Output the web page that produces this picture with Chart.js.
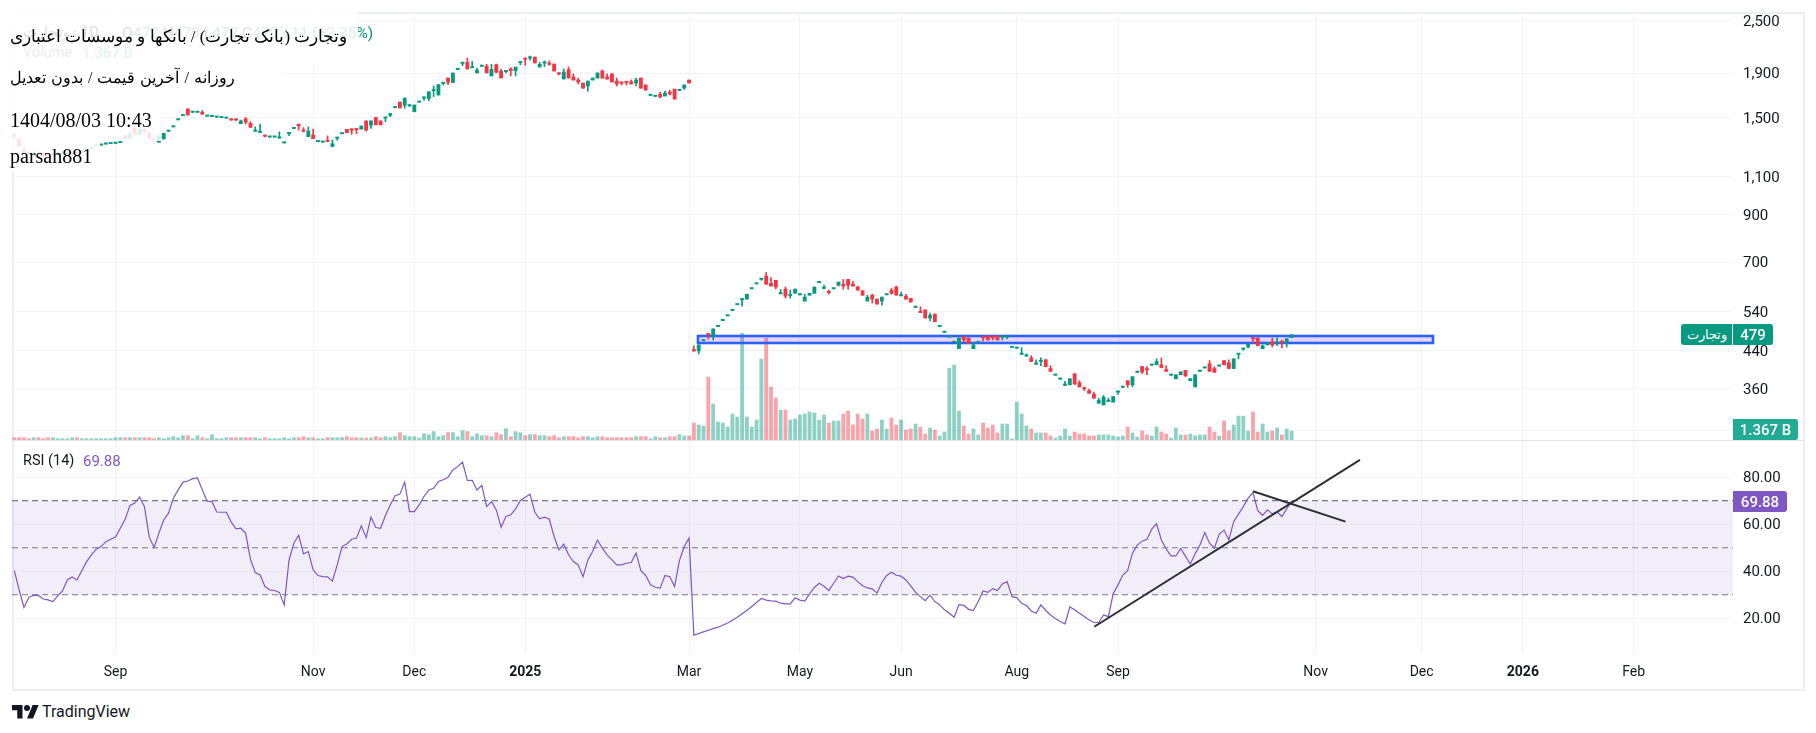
<!DOCTYPE html>
<html lang="fa"><head><meta charset="utf-8"><title>وتجارت</title>
<script src="https://cdn.jsdelivr.net/npm/chart.js@4/dist/chart.umd.min.js"></script>
<style>
html,body{margin:0;padding:0;background:#fff;width:1816px;height:733px;overflow:hidden}
body{position:relative;font-family:Roboto,sans-serif;color:#131722}
canvas{position:absolute;left:0}
.frame{position:absolute;left:12px;top:12px;width:1789px;height:675px;border:2px solid #eceef5;box-sizing:content-box;pointer-events:none}
.sep{position:absolute;left:12px;top:440px;width:1791px;height:1px;background:#e0e3eb}
.t{position:absolute;white-space:nowrap;font-size:14.5px;line-height:20px}
.veil{position:absolute;left:0;background:rgba(255,255,255,.85)}
.note{position:absolute;white-space:nowrap;font-family:"Liberation Serif","Times New Roman",serif;color:#000;font-size:20px;line-height:24px}
.fa1{font-size:16.8px}
.fa2{font-size:16px;word-spacing:1px}
.tag{position:absolute;color:#fff;font-size:15px;font-weight:500;display:flex;align-items:center;justify-content:center}
</style></head><body>
<div class="frame"></div>
<canvas id="main" width="1816" height="441" style="top:0;width:1816px;height:441px"></canvas>
<div class="sep"></div>
<canvas id="osc" width="1816" height="247" style="top:441px;width:1816px;height:247px"></canvas>

<div class="t" style="left:23px;top:23px"><span dir="rtl">وتجارت</span> · 1D<span style="position:absolute;left:99px;top:0;color:#089981;font-size:15.5px"><span style="color:#131722">O</span>472 <span style="color:#131722">H</span>479 <span style="color:#131722">L</span>472 <span style="color:#131722">C</span>479 +11 (+2.35%)</span></div>
<div class="t" style="left:23px;top:43px;color:#787b86">Volume<span style="position:absolute;left:59px;color:#22ab94;font-size:15px">1.367 B</span></div>
<div class="t" style="left:23px;top:451px">RSI (14)<span style="position:absolute;left:60px;color:#7e57c2;font-size:15px">69.88</span></div>

<div class="veil" style="top:0;width:358px;height:65px"></div>
<div class="veil" style="top:65px;width:285px;height:35px"></div>
<div class="veil" style="top:100px;width:161px;height:41px"></div>
<div class="veil" style="top:141px;width:100px;height:32px"></div>
<div class="note fa1" dir="rtl" style="left:10px;top:25px">وتجارت (بانک تجارت) / بانکها و موسسات اعتباری</div>
<div class="note fa2" dir="rtl" style="left:10px;top:66px">روزانه / آخرین قیمت / بدون تعدیل</div>
<div class="note" style="left:10px;top:108px">1404/08/03 10:43</div>
<div class="note" style="left:10px;top:144px">parsah881</div>

<div class="tag" dir="rtl" style="left:1681px;top:324px;width:51px;height:21px;background:#089981;border-radius:3px 0 0 3px;font-size:13px;font-weight:400">وتجارت</div>
<div class="tag" style="left:1733px;top:324px;width:40px;height:21px;background:#089981;border-radius:0 3px 3px 0">479</div>
<div class="tag" style="left:1733px;top:419px;width:65px;height:21px;background:#22ab94;border-radius:0 3px 3px 0">1.367 B</div>
<div class="tag" style="left:1733px;top:491px;width:54px;height:21px;background:#7e57c2;border-radius:0 3px 3px 0">69.88</div>

<svg style="position:absolute;left:12px;top:702px" width="27" height="18" viewBox="0 0 36 24"><path fill="#131722" d="M14 22H7V11H0V4h14v18zM28 22h-8l7.5-18h8L28 22z"/><circle fill="#131722" cx="20" cy="8" r="4"/></svg>
<div class="t" style="left:42px;top:702px;font-size:16px;color:#131722">TradingView</div>

<script>
const opens=[
1367,1343,1263,1243,1235,1250,1246,1236,1233,1238,
1239,1242,1244,1249,1250,1265,1277,1295,1300,1307,
1310,1312,1317,1367,1348,1420,1374,1408,1388,1338,
1320,1343,1398,1431,1485,1518,1573,1545,1545,1546,
1514,1511,1506,1502,1498,1495,1487,1455,1493,1458,
1398,1389,1366,1356,1356,1349,1315,1381,1418,1452,
1402,1360,1372,1324,1320,1328,1291,1348,1380,1413,
1409,1414,1415,1475,1445,1504,1477,1499,1521,1583,
1631,1604,1597,1550,1630,1666,1662,1731,1693,1799,
1851,1808,1936,1999,2010,1954,1902,1969,1972,1872,
1986,1919,1914,1944,1924,2007,2048,2056,2067,1962,
2002,1992,1993,1894,1842,1934,1861,1832,1803,1776,
1832,1851,1921,1861,1892,1822,1806,1811,1816,1803,
1851,1785,1689,1680,1699,1684,1719,1746,1733,1756,
1832,442,440,464,481,478,500,516,529,544,
561,576,578,610,626,641,652,628,638,594,
609,589,596,591,572,590,596,630,611,600,
610,622,625,641,625,616,603,572,590,578,
572,591,606,616,588,587,580,553,540,546,
523,534,500,485,473,460,445,474,471,445,
460,473,476,476,476,473,473,448,446,432,
428,424,410,416,420,401,387,379,367,368,
390,372,361,357,350,334,331,337,336,354,
363,376,368,393,405,400,408,409,409,399,
387,380,388,397,376,364,395,402,411,401,
406,418,413,401,432,444,449,471,471,445,
454,461,458,462,461,472];
const closes=[
1364,1297,1246,1240,1250,1235,1231,1233,1236,1241,
1242,1244,1246,1246,1252,1268,1280,1298,1303,1310,
1312,1315,1320,1343,1377,1379,1408,1396,1348,1335,
1365,1384,1401,1435,1489,1522,1524,1548,1548,1530,
1518,1514,1509,1504,1501,1483,1484,1477,1467,1428,
1401,1392,1362,1360,1360,1352,1318,1384,1422,1438,
1399,1400,1345,1327,1323,1325,1309,1351,1383,1388,
1406,1410,1438,1408,1477,1447,1447,1502,1536,1587,
1581,1666,1600,1606,1634,1669,1722,1734,1788,1803,
1811,1901,1940,2003,1942,1956,1931,1973,1902,1938,
1909,1852,1917,1924,1961,2011,2044,2059,2004,1990,
2005,1989,1921,1891,1911,1851,1832,1813,1755,1822,
1851,1902,1851,1841,1813,1794,1801,1808,1794,1832,
1755,1737,1692,1683,1676,1710,1701,1657,1736,1785,
1803,440,454,466,479,494,502,518,531,546,
563,578,593,612,628,643,625,619,616,596,
587,591,609,593,584,596,616,632,613,598,
612,632,619,622,619,606,590,584,578,563,
584,593,596,590,590,578,569,555,538,523,
531,513,502,487,475,462,471,466,458,454,
462,471,466,471,466,475,475,450,448,434,
430,416,412,418,405,395,389,381,369,380,
370,364,360,352,343,339,345,338,346,356,
365,368,384,395,394,398,410,416,403,395,
389,388,394,386,380,388,397,404,395,393,
408,409,401,422,434,446,456,469,452,452,
460,454,460,460,469,479];
const highs=[
1384,1343,1291,1256,1256,1256,1252,1242,1242,1241,
1242,1244,1246,1249,1252,1268,1280,1298,1303,1310,
1312,1315,1320,1367,1396,1420,1428,1420,1388,1352,
1365,1384,1401,1435,1489,1522,1573,1548,1548,1560,
1518,1514,1509,1504,1501,1495,1494,1484,1504,1471,
1432,1453,1370,1360,1360,1394,1318,1384,1422,1452,
1426,1431,1415,1327,1323,1365,1336,1351,1383,1413,
1420,1420,1438,1480,1477,1506,1477,1502,1536,1587,
1631,1666,1614,1606,1634,1669,1722,1776,1788,1803,
1851,1901,1940,2003,2056,2020,1951,1973,1990,1990,
1993,1938,1917,1955,1961,2011,2056,2078,2067,2010,
2025,2025,1993,1902,1941,1962,1892,1851,1803,1822,
1851,1902,1931,1892,1892,1851,1813,1813,1832,1851,
1851,1785,1692,1689,1719,1728,1737,1746,1736,1785,
1832,452,454,466,481,494,502,518,531,546,
563,578,593,612,628,643,665,647,638,608,
616,606,609,593,593,596,616,632,622,606,
612,632,641,641,635,619,606,590,593,578,
584,593,612,619,600,593,580,557,555,546,
537,534,502,487,475,462,471,474,471,461,
462,473,476,476,476,475,475,450,448,448,
433,429,420,424,420,407,389,381,375,380,
390,376,364,360,354,343,348,343,346,356,
365,376,384,395,405,405,410,422,424,407,
389,388,394,397,380,388,397,404,418,405,
408,418,420,422,434,446,456,471,471,454,
460,471,471,466,469,479];
const lows=[
1348,1292,1242,1235,1235,1231,1228,1228,1230,1238,
1239,1242,1244,1246,1250,1265,1277,1295,1300,1307,
1310,1312,1317,1343,1348,1379,1374,1384,1348,1335,
1320,1343,1398,1431,1485,1518,1524,1545,1545,1530,
1514,1511,1506,1502,1498,1483,1479,1455,1453,1428,
1398,1389,1357,1356,1356,1349,1315,1367,1418,1408,
1394,1360,1345,1324,1320,1325,1291,1334,1380,1388,
1377,1382,1415,1400,1420,1447,1447,1471,1511,1583,
1581,1579,1597,1550,1630,1648,1642,1679,1693,1785,
1788,1808,1936,1976,1942,1954,1902,1969,1902,1872,
1902,1852,1902,1872,1872,1986,1980,2035,2004,1961,
1966,1980,1921,1882,1842,1851,1832,1794,1755,1728,
1832,1851,1851,1841,1813,1776,1785,1785,1794,1776,
1755,1737,1689,1680,1667,1684,1693,1657,1733,1743,
1803,439,433,464,468,466,500,516,529,544,
561,557,578,610,626,638,625,619,610,594,
581,581,596,591,572,590,596,630,611,593,
610,619,609,609,619,606,590,572,566,563,
560,591,593,590,588,578,569,553,538,523,
515,513,500,485,473,460,445,461,458,445,
460,463,466,466,466,466,469,448,446,432,
428,416,410,407,405,395,387,379,367,368,
368,364,357,352,343,334,331,337,336,350,
363,363,364,393,390,388,408,409,403,395,
387,380,388,384,376,364,395,402,395,393,
406,409,401,401,422,441,447,458,452,445,
454,449,452,447,449,472];
const volumes=[
.35,.35,.35,.2,.35,.35,.2,.35,.35,.2,
.2,.2,.35,.35,.2,.2,.2,.2,.2,.2,
.2,.35,.35,.35,.35,.35,.35,.35,.35,.2,
.35,.2,.35,.51,.35,.66,.66,.2,.66,.35,
.2,.81,.2,.2,.35,.35,.35,.35,.35,.35,
.35,.2,.35,.2,.2,.2,.35,.2,.35,.35,
.51,.35,.35,.2,.2,.35,.35,.35,.35,.51,
.35,.35,.3,.3,.3,.51,.35,.51,.35,.51,
1.11,.66,.51,.51,.3,.96,.81,1.27,.51,.66,
1.11,1.11,.51,1.42,1.27,.51,.96,.66,.66,.51,
1.11,.81,1.72,.51,1.27,1.11,.66,.81,.81,.66,
.66,.51,.66,.35,.51,.51,.51,.35,.51,.51,
.35,.51,.51,.35,.35,.35,.35,.35,.35,.51,
.51,.51,.2,.51,.35,.35,.51,.51,.81,.61,
.61,2.58,2.28,2.13,9.56,5.46,2.73,2.58,1.97,3.95,
3.49,16.24,3.49,1.97,3.04,12.3,15.48,8.05,6.38,4.55,
4.55,3.04,3.19,3.8,3.95,4.25,4.1,3.04,3.8,2.58,
2.88,2.88,3.95,4.4,2.28,3.95,3.19,3.95,1.37,1.67,
3.04,1.67,3.34,2.28,3.04,1.52,1.67,2.43,1.97,.91,
1.82,1.52,.61,1.21,10.93,11.39,4.4,2.13,.91,1.67,
.76,2.58,1.82,2.28,1.06,2.43,2.43,.15,5.77,3.95,
2.13,1.67,1.06,1.06,1.06,.61,.3,.61,1.67,.61,
1.21,.91,.91,.61,.61,.76,.76,.76,.61,.46,
.61,1.97,1.06,.46,1.37,.76,.61,1.97,1.21,.91,
.3,1.82,.76,.76,.91,.61,.76,.76,1.97,1.21,
.61,2.88,1.37,2.28,3.64,3.64,1.37,4.25,1.21,2.43,
1.21,1.37,1.82,.76,1.67,1.367];
const rsiValues=[
40.3,32.1,24.7,28.8,29.8,29.7,28.2,27.8,27.1,29.5,
31.6,36.3,37.6,36.3,40.2,44.1,47.0,49.4,50.5,52.6,
53.6,54.5,58.3,62.1,68.0,69.0,71.5,67.5,54.5,50.1,
56.2,61.8,64.7,71.1,74.6,77.9,78.4,79.4,79.7,74.6,
69.8,69.6,65.2,65.1,65.1,60.9,58.0,58.3,56.2,45.1,
39.4,38.4,33.5,32.1,31.8,31.0,25.7,44.8,51.9,55.3,
47.4,48.4,40.6,38.2,37.7,37.6,35.8,42.7,50.5,51.6,
53.6,54.1,59.3,54.3,63.0,58.6,58.3,63.7,68.2,72.1,
72.8,77.9,65.4,65.4,68.2,71.8,74.6,75.3,78.2,78.9,
80.0,83.1,84.5,86.4,78.6,78.7,74.6,76.5,67.5,69.6,
66.1,58.7,63.3,64.0,66.5,70.1,71.5,72.8,65.1,62.3,
63.0,62.1,54.8,49.1,51.5,47.0,44.1,42.7,37.7,44.8,
48.4,53.3,49.8,47.0,44.8,42.7,42.7,43.4,43.7,47.7,
40.2,38.2,34.2,33.2,32.8,38.2,37.7,33.5,44.5,50.5,
54.1,12.8,13.5,14.2,14.9,15.6,16.2,17.0,18.0,19.2,
20.4,21.9,23.3,25.0,26.7,28.4,27.7,27.4,27.3,26.4,
26.1,26.1,28.7,27.7,27.3,30.4,33.1,34.9,33.6,31.8,
34.9,38.0,36.9,37.9,37.5,35.6,33.8,32.9,32.5,30.7,
35.2,38.2,39.6,38.3,37.9,36.3,33.8,31.0,29.2,27.5,
29.8,27.1,25.7,23.6,22.1,20.4,25.8,25.5,23.8,23.3,
27.1,31.6,31.0,32.6,31.8,34.6,35.6,29.2,28.8,26.4,
25.4,23.1,22.1,25.7,23.3,21.4,19.9,18.6,17.6,24.8,
23.6,22.1,20.7,19.3,18.2,18.2,21.4,20.7,30.4,34.2,
38.4,40.2,47.7,51.1,52.8,53.6,57.9,60.2,53.3,49.5,
46.5,46.5,49.7,46.3,43.1,47.4,51.2,56.5,51.9,49.8,
55.8,57.5,53.3,61.1,64.3,67.5,71.1,73.5,65.8,63.8,
66.1,64.4,65.3,63.3,66.5,69.88];
const monthTickIdx=[21,62,83,106,140,163,184,208,229,270,292,313,336];
const monthTickLabels=["Sep","Nov","Dec","2025","Mar","May","Jun","Aug","Sep","Nov","Dec","2026","Feb"];
const boldTickLabels=["2025","2026"];
const priceTicks=[2500,1900,1500,1100,900,700,540,440,360,290];
const priceTickLabels=["2,500","1,900","1,500","1,100","900","700","540","440","360",""];
const rsiTicks=[20,40,60,80];
const rsiLevels=[70,50,30];
const supportBox={x0:141.9,x1:294.3,top:476,bottom:458.7};
const rsiTrendUp=[{x:224.07,y:16.4},{x:279.2,y:87.4}];
const rsiTrendDown=[{x:257,y:74},{x:276.2,y:61.1}];

const xMin=-0.48,xMax=356.6,priceMin=275.2,priceMax=2621,volMax=65.06,rsiMin=4.8,rsiMax=95.4;
const UP="#089981",DOWN="#f23645",UPV="rgba(8,153,129,.45)",DOWNV="rgba(242,54,69,.45)";
const GRID="#f2f3f8",FONT="Roboto, sans-serif";
Chart.defaults.font.family=FONT;
Chart.defaults.font.size=15;
Chart.defaults.color="#131722";
const isUp=i=>closes[i]>=opens[i];
const noPad=s=>{s.paddingTop=0;s.paddingBottom=0;s.paddingLeft=0;s.paddingRight=0;};
const xScale=(showTicks)=>({
  type:"linear",min:xMin,max:xMax,offset:false,
  afterBuildTicks:s=>{s.ticks=monthTickIdx.map(value=>({value}));},
  grid:{color:GRID,drawTicks:false,offset:false},border:{display:false},
  afterFit:s=>{s.height=showTicks?34:1;noPad(s);},
  ticks:{display:showTicks,autoSkip:false,maxRotation:0,padding:10,color:"#131722",
    callback:(v)=>monthTickLabels[monthTickIdx.indexOf(v)],
    font:c=>{const l=monthTickLabels[monthTickIdx.indexOf(c.tick&&c.tick.value)];
      return {family:FONT,size:14,weight:boldTickLabels.includes(l)?"bold":"normal"};}}
});
const boxPlugin={id:"supportBox",beforeDatasetDraw(chart,args){
  if(chart.data.datasets[args.index].label!=="Wick")return;
  const c=chart.ctx,x=chart.scales.x,y=chart.scales.y;
  const l=Math.round(x.getPixelForValue(supportBox.x0)),r=Math.round(x.getPixelForValue(supportBox.x1));
  const t=Math.round(y.getPixelForValue(supportBox.top)),b=Math.round(y.getPixelForValue(supportBox.bottom));
  c.save();c.fillStyle="rgba(156,39,176,.2)";c.fillRect(l,t,r-l,b-t);
  c.strokeStyle="#2962ff";c.lineWidth=2.6;c.strokeRect(l,t,r-l,b-t);c.restore();
}};
new Chart(document.getElementById("main"),{
  type:"bar",
  plugins:[boxPlugin],
  data:{datasets:[
    {label:"Body",order:1,yAxisID:"y",grouped:false,barThickness:3.2,minBarLength:1.3,
     data:opens.map((o,i)=>({x:i,y:[o,closes[i]]})),
     backgroundColor:c=>isUp(c.dataIndex)?UP:DOWN},
    {label:"Wick",order:2,yAxisID:"y",grouped:false,barThickness:1,
     data:highs.map((h,i)=>({x:i,y:[lows[i],h]})),
     backgroundColor:c=>isUp(c.dataIndex)?UP:DOWN},
    {label:"Volume",order:3,yAxisID:"v",grouped:false,barThickness:3.2,
     data:volumes.map((v,i)=>({x:i,y:v})),
     backgroundColor:c=>isUp(c.dataIndex)?UPV:DOWNV}
  ]},
  options:{responsive:false,animation:false,devicePixelRatio:1,
    layout:{autoPadding:false,padding:{left:12,right:13,top:12,bottom:0}},
    plugins:{legend:{display:false},tooltip:{enabled:false}},
    scales:{
      x:xScale(false),
      y:{type:"logarithmic",position:"right",min:priceMin,max:priceMax,
        afterBuildTicks:s=>{s.ticks=priceTicks.map(value=>({value}));},
        afterFit:s=>{s.width=70;noPad(s);},
        grid:{color:GRID,drawTicks:false},border:{display:false},
        ticks:{autoSkip:false,padding:10,labelOffset:1,color:"#131722",
          callback:v=>priceTickLabels[priceTicks.indexOf(v)]}},
      v:{type:"linear",display:false,min:0,max:volMax}
    }}
});
const levelSet=(y,i)=>({label:"L"+y,type:"line",order:5,data:[{x:xMin,y},{x:xMax,y}],
  borderColor:"#787b86",borderWidth:1.2,borderDash:[6,4],pointRadius:0,
  fill:i===0?{target:2+rsiLevels.length,above:"rgba(126,87,194,.1)",below:"rgba(126,87,194,.1)"}:false});
new Chart(document.getElementById("osc"),{
  type:"line",
  data:{datasets:[
    {label:"TrendUp",order:1,data:rsiTrendUp,borderColor:"#2a2e39",borderWidth:2,pointRadius:0},
    {label:"TrendDown",order:1,data:rsiTrendDown,borderColor:"#2a2e39",borderWidth:2,pointRadius:0},
    {label:"RSI",order:2,data:rsiValues.map((y,i)=>({x:i,y})),borderColor:"#7e57c2",borderWidth:1.2,pointRadius:0,tension:0},
    ...rsiLevels.map((y,i)=>levelSet(y,i))
  ]},
  options:{responsive:false,animation:false,devicePixelRatio:1,
    layout:{autoPadding:false,padding:{left:12,right:13,top:0,bottom:0}},
    plugins:{legend:{display:false},tooltip:{enabled:false}},
    scales:{
      x:xScale(true),
      y:{type:"linear",position:"right",min:rsiMin,max:rsiMax,
        afterBuildTicks:s=>{s.ticks=rsiTicks.map(value=>({value}));},
        afterFit:s=>{s.width=70;noPad(s);},
        grid:{color:GRID,drawTicks:false},border:{display:false},
        ticks:{autoSkip:false,padding:10,labelOffset:1,color:"#131722",callback:v=>v.toFixed(2)}}
    }}
});
</script>
</body></html>
